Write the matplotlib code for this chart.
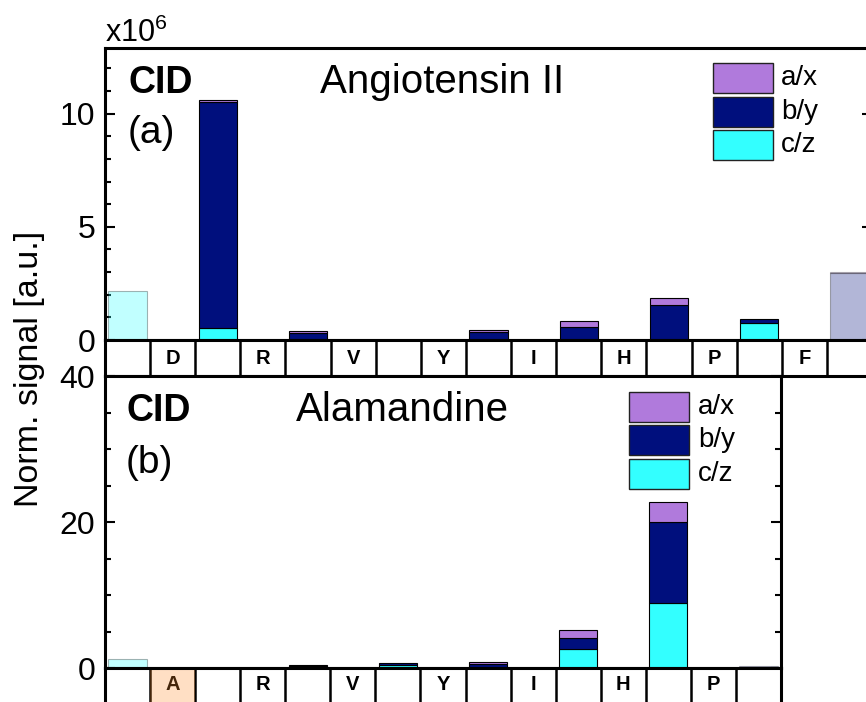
import numpy as np
import matplotlib
matplotlib.use("Agg")
import matplotlib.pyplot as plt
from matplotlib.patches import Rectangle
from matplotlib.colors import to_rgba

plt.rcParams['font.family'] = ['Liberation Sans', 'DejaVu Sans']
plt.rcParams['mathtext.fontset'] = 'custom'
plt.rcParams['mathtext.rm'] = 'Liberation Sans'

# ---- data -------------------------------------------------------------
series_names = ['a/x', 'b/y', 'c/z']

# Angiotensin II (signal in units of 1e6), bars sit between residues
ang_cells = ['', 'D', '', 'R', '', 'V', '', 'Y', '', 'I', '', 'H', '', 'P', '', 'F', '']
ang_pos = [0, 2, 4, 6, 8, 10, 12, 14, 16]
ang_cz = [2.17, 0.53, 0.00, 0.00, 0.00, 0.00, 0.02, 0.73, 0.00]
ang_by = [0.00, 10.00, 0.30, 0.00, 0.36, 0.59, 1.53, 0.19, 2.95]
ang_ax = [0.00, 0.06, 0.08, 0.00, 0.10, 0.26, 0.32, 0.00, 0.05]
ang_faded = [True, False, False, False, False, False, False, False, True]

# Alamandine
ala_cells = ['', 'A', '', 'R', '', 'V', '', 'Y', '', 'I', '', 'H', '', 'P', '']
ala_pos = [0, 2, 4, 6, 8, 10, 12, 14]
ala_cz = [1.20, 0.05, 0.00, 0.35, 0.00, 2.56, 8.90, 0.00]
ala_by = [0.00, 0.00, 0.30, 0.30, 0.50, 1.59, 11.10, 0.22]
ala_ax = [0.00, 0.00, 0.10, 0.00, 0.35, 1.05, 2.80, 0.00]
ala_faded = [True, False, False, False, False, False, False, True]
ala_highlight = 'A'

# ---- style ------------------------------------------------------------
C_AX = '#b07adc'
C_BY = '#000f7d'
C_CZ = '#33ffff'
FADE = 0.3
BAR_W = 0.85

W, H = 866, 702
fig = plt.figure(figsize=(W / 100, H / 100), dpi=100)


def box(l, t, r, b):
    return [l / W, 1 - b / H, (r - l) / W, (b - t) / H]


def fx(x):
    return x / W


def fy(y):
    return 1 - y / H


ax_top = fig.add_axes(box(105, 48, 872, 340))
band_top = fig.add_axes(box(105, 340, 872, 376))
ax_bot = fig.add_axes(box(105, 376, 781, 668))
band_bot = fig.add_axes(box(105, 668, 781, 705))


def stacked(ax, pos, cz, by, ax_vals, faded):
    pos = np.asarray(pos, float)
    cz, by, axv = (np.asarray(v, float) for v in (cz, by, ax_vals))
    alphas = np.where(faded, FADE, 1.0)
    bottoms = [np.zeros_like(cz), cz, cz + by]
    for vals, bot, col in zip([cz, by, axv], bottoms, [C_CZ, C_BY, C_AX]):
        m = vals > 0
        ax.bar(pos[m], vals[m], bottom=bot[m], width=BAR_W,
               color=[to_rgba(col, a) for a in alphas[m]],
               edgecolor=[to_rgba('black', a) for a in alphas[m]],
               linewidth=0.8, zorder=2)


def style_axes(ax, n, ymax, major, minor):
    ax.set_xlim(-0.5, n - 0.5)
    ax.set_ylim(0, ymax)
    ax.set_xticks([])
    ax.yaxis.set_major_locator(plt.MultipleLocator(major))
    ax.yaxis.set_minor_locator(plt.MultipleLocator(minor))
    ax.tick_params(axis='y', which='both', direction='in', left=True, right=True,
                   labelsize=23, pad=7, width=1.5)
    ax.tick_params(axis='y', which='major', length=7.5)
    ax.tick_params(axis='y', which='minor', length=4)
    for s in ax.spines.values():
        s.set_linewidth(2.2)


def draw_band(band, cells, highlight=None):
    n = len(cells)
    band.set_xlim(-0.5, n - 0.5)
    band.set_ylim(0, 1)
    band.set_xticks([])
    band.set_yticks([])
    for s in band.spines.values():
        s.set_linewidth(2.2)
        s.set_zorder(4)
    for i in range(n - 1):
        band.axvline(i + 0.5, color='black', lw=1.8, zorder=1)
    for i, lab in enumerate(cells):
        if lab:
            band.text(i, 0.5 if band is band_top else 0.55, lab, ha='center', va='center',
                      fontsize=14.5, fontweight='bold', zorder=1)
            if lab == highlight:
                band.add_patch(Rectangle((i - 0.5, 0), 1, 1, facecolor='#ff8c28',
                                         alpha=0.27, edgecolor='none', zorder=3))


stacked(ax_top, ang_pos, ang_cz, ang_by, ang_ax, ang_faded)
stacked(ax_bot, ala_pos, ala_cz, ala_by, ala_ax, ala_faded)
style_axes(ax_top, len(ang_cells), 12.9, 5, 1)
style_axes(ax_bot, len(ala_cells), 40, 20, 5)
draw_band(band_top, ang_cells)
draw_band(band_bot, ala_cells, ala_highlight)


def legend(x0, tops, tx):
    for t, name, col in zip(tops, series_names, [C_AX, C_BY, C_CZ]):
        fig.add_artist(Rectangle((fx(x0), fy(t + 29.5)), 60 / W, 29.5 / H,
                                 facecolor=col, edgecolor='#222222', lw=1.0,
                                 transform=fig.transFigure))
        fig.text(fx(tx), fy(t + 15), name, fontsize=20, va='center', ha='left')


legend(713, [63, 97, 130], 781)
legend(629, [392, 425, 459], 698)

# panel annotations
fig.text(fx(128), fy(93), 'CID', fontsize=27, fontweight='bold')
fig.text(fx(128), fy(143), '(a)', fontsize=28)
fig.text(fx(320), fy(93), 'Angiotensin II', fontsize=29)
fig.text(fx(126), fy(421), 'CID', fontsize=27, fontweight='bold')
fig.text(fx(126), fy(473), '(b)', fontsize=28)
fig.text(fx(296), fy(421), 'Alamandine', fontsize=29)

fig.text(fx(105), fy(42), r'$\mathregular{x10^{6}}$', fontsize=22)
fig.text(fx(30), fy(369), 'Norm. signal [a.u.]', fontsize=24.5, rotation=90,
         ha='center', va='center')

fig.savefig('out.png', dpi=100)
